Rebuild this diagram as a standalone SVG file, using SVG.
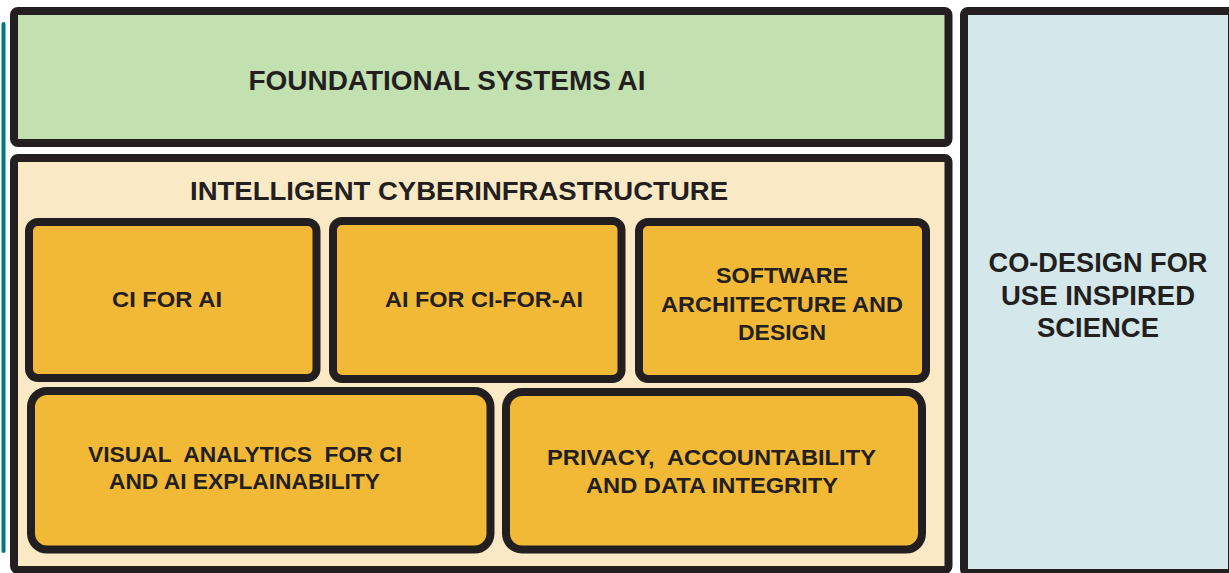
<svg xmlns="http://www.w3.org/2000/svg" width="1229" height="573" viewBox="0 0 1229 573">
<style>
.box{stroke:#231f20;stroke-width:8}
.sub{stroke:#231f20;stroke-width:8;fill:#f2b937}
text{font-family:"Liberation Sans",Arial,sans-serif;font-weight:bold;fill:#231f20;text-anchor:middle;white-space:pre}
</style>
<rect width="1229" height="573" fill="#ffffff"/>
<g id="side-bar"><line x1="3.5" y1="24" x2="3.5" y2="551" stroke="#007a78" stroke-width="4" stroke-linecap="round"/></g>
<g id="foundational">
<rect class="box" x="14" y="11" width="934.5" height="132" rx="4" fill="#c2e0b0"/>
<text x="447" y="90" font-size="27" textLength="397" lengthAdjust="spacingAndGlyphs">FOUNDATIONAL SYSTEMS AI</text>
</g>
<g id="intelligent-ci">
<rect class="box" x="14" y="158" width="934.5" height="412" rx="4" fill="#fae9c5"/>
<text x="459" y="200" font-size="25" textLength="538" lengthAdjust="spacingAndGlyphs">INTELLIGENT CYBERINFRASTRUCTURE</text>
</g>
<g id="ci-for-ai">
<rect class="sub" x="29" y="222" width="287.5" height="156" rx="9"/>
<text x="167" y="307" font-size="21.5" textLength="110" lengthAdjust="spacingAndGlyphs">CI FOR AI</text>
</g>
<g id="ai-for-ci-for-ai">
<rect class="sub" x="333" y="221" width="288.5" height="158" rx="9"/>
<text x="484" y="307" font-size="21.5" textLength="198" lengthAdjust="spacingAndGlyphs">AI FOR CI-FOR-AI</text>
</g>
<g id="software-architecture">
<rect class="sub" x="639" y="222" width="287" height="157" rx="9"/>
<text x="782" y="283" font-size="21.5" textLength="132" lengthAdjust="spacingAndGlyphs">SOFTWARE</text>
<text x="782" y="312" font-size="21.5" textLength="242" lengthAdjust="spacingAndGlyphs">ARCHITECTURE AND</text>
<text x="782" y="340" font-size="21.5" textLength="88" lengthAdjust="spacingAndGlyphs">DESIGN</text>
</g>
<g id="visual-analytics">
<rect class="sub" x="31" y="391" width="459.5" height="158.5" rx="16"/>
<text x="245" y="462" font-size="21.5" textLength="314" lengthAdjust="spacingAndGlyphs">VISUAL  ANALYTICS  FOR CI</text>
<text x="244.5" y="489" font-size="21.5" textLength="271" lengthAdjust="spacingAndGlyphs">AND AI EXPLAINABILITY</text>
</g>
<g id="privacy">
<rect class="sub" x="506" y="392" width="416" height="157.5" rx="16"/>
<text x="711.5" y="465" font-size="21.5" textLength="329" lengthAdjust="spacingAndGlyphs">PRIVACY,  ACCOUNTABILITY</text>
<text x="712" y="493" font-size="21.5" textLength="252" lengthAdjust="spacingAndGlyphs">AND DATA INTEGRITY</text>
</g>
<g id="co-design">
<rect class="box" x="964" y="11" width="268" height="562" rx="4" fill="#d4e7ea"/>
<text x="1098" y="272" font-size="27" textLength="219" lengthAdjust="spacingAndGlyphs">CO-DESIGN FOR</text>
<text x="1098" y="305" font-size="27" textLength="194" lengthAdjust="spacingAndGlyphs">USE INSPIRED</text>
<text x="1098" y="337" font-size="27" textLength="122" lengthAdjust="spacingAndGlyphs">SCIENCE</text>
</g>
<g id="connectors"></g>
</svg>
